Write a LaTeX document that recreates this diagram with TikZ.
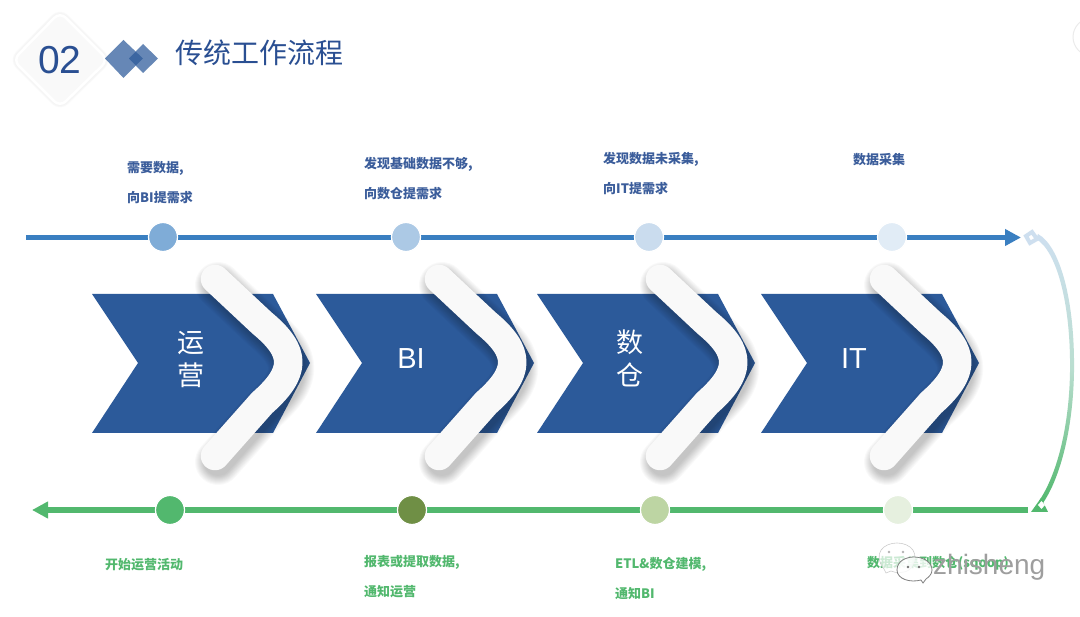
\documentclass[tikz,border=0pt]{standalone}
\usepackage{fontspec}
\setmainfont{Noto Sans CJK SC}
\newfontfamily\latinf{Liberation Sans}
\usetikzlibrary{arrows.meta,calc}
\definecolor{navy}{HTML}{2C5A9A}
\definecolor{titleblue}{HTML}{2A4F92}
\definecolor{linegreen}{HTML}{52B86E}
\definecolor{lineblue}{HTML}{3A7FC1}
\colorlet{bandc}{white!97.5!black}
\tikzset{
 x=1pt,y=-1pt,
 chev/.style={fill=navy,draw=none},
 dot/.style={circle,minimum size=29pt,inner sep=0pt,draw=white,line width=1.2pt},
 toplabel/.style={text=titleblue!92!white,font=\fontsize{13}{30}\selectfont\bfseries,align=left,anchor=north west,inner sep=0pt},
 botlabel/.style={text=linegreen,font=\fontsize{13}{30}\selectfont\bfseries,align=left,anchor=north west,inner sep=0pt},
 chevtext/.style={text=white,font=\fontsize{27}{33}\selectfont,align=center,inner sep=0pt},
}
\newcommand{\chevron}[1]{%
 \begin{scope}[xshift=#1 pt]
 \fill[chev] (0,294)--(181,294)--(218,363)--(181,433)--(0,433)--(46,363)--cycle;
 \foreach \s in {20,18,16,14,12,10,8,6,4,2}{
   \draw[black,opacity=.024,line width=26pt+\s pt,line cap=round,line join=round]
     ($(123,279)+(3,6)$)--($(170,323)+(3,6)$) .. controls ($(205,352)+(3,6)$) and ($(205,372)+(3,6)$) .. ($(170,403)+(3,6)$)--($(123,456)+(3,6)$);
 }
 \draw[bandc,line width=28.5pt,line cap=round,line join=round]
   (123,279)--(170,323) .. controls (205,352) and (205,372) .. (170,403)--(123,456);
 \end{scope}}
\begin{document}
\begin{tikzpicture}
\useasboundingbox (0,0) rectangle (1080,617);
\fill[white] (0,0) rectangle (1080,617);
% header
\foreach \s in {7,5,3}{\draw[black!5,opacity=.4,line width=\s pt,rounded corners=8pt] (60,12)--(108,60)--(60,107)--(13,60)--cycle;}
\fill[white!97.5!black,draw=white,line width=2.5pt,rounded corners=8pt] (60,12)--(108,60)--(60,107)--(13,60)--cycle;
\node[text=titleblue,inner sep=0pt,font=\latinf\fontsize{39}{39}\selectfont] (num) at (60,60) {02};
\fill[navy,opacity=.72] (123.5,40)--(143,58.5)--(123.5,78)--(105,58.5)--cycle;
\fill[navy,opacity=.72] (143,44)--(158,58.5)--(143,73)--(129,58.5)--cycle;
\node[text=titleblue,anchor=west,inner sep=0pt,font=\fontsize{28}{28}\selectfont] (title) at (175,53) {传统工作流程};
% top line
\coordinate (ts) at (26,237.5); \coordinate (te) at (1021,237.5);
\draw[lineblue,line width=5.5pt,-{Triangle[length=16pt,width=16pt]}] (ts)--(te);
\node[dot,fill=lineblue!65!white] (t1) at (163,237) {};
\node[dot,fill=lineblue!42!white] (t2) at (406,237) {};
\node[dot,fill=lineblue!27!white] (t3) at (649,237) {};
\node[dot,fill=lineblue!15!white] (t4) at (892,237) {};
\node[toplabel] (l1) at (127,161) {需要数据,\\向BI提需求};
\node[toplabel] (l2) at (364,157) {发现基础数据不够,\\向数仓提需求};
\node[toplabel] (l3) at (603,152) {发现数据未采集,\\向IT提需求};
\node[toplabel] (l4) at (853,153) {数据采集};
% bottom line
\coordinate (bs) at (1028,510); \coordinate (be) at (32,510);
\draw[linegreen,line width=5.5pt,-{Triangle[length=16pt,width=16pt]}] (bs)--(be);
\definecolor{bc2}{HTML}{6F8F45}\definecolor{bc3}{HTML}{BDD5A3}\definecolor{bc4}{HTML}{E6F0DF}
\node[dot,fill=linegreen] (b1) at (170,510) {};
\node[dot,fill=bc2] (b2) at (412,510) {};
\node[dot,fill=bc3] (b3) at (655,510) {};
\node[dot,fill=bc4] (b4) at (898,510) {};
\node[botlabel] (m1) at (105,558) {开始运营活动};
\node[botlabel] (m2) at (364,555) {报表或提取数据,\\通知运营};
\node[botlabel] (m3) at (615,557) {ETL\&数仓建模,\\通知BI};
\node[botlabel] (m4) at (867,556) {数据采集到数仓(sqoop)};
% chevrons
\chevron{92}
\chevron{316}
\chevron{537}
\chevron{761}
\node[chevtext] (c1) at (191,360) {运\\营};
\node[chevtext,font=\latinf\fontsize{29}{33}\selectfont] (c2) at (411,359) {BI};
\node[chevtext] (c3) at (630,358) {数\\仓};
\node[chevtext,font=\latinf\fontsize{29}{33}\selectfont] (c4) at (854,359) {IT};
% return curve
\shade[top color=lineblue!25!white,bottom color=linegreen,middle color=lineblue!25!white!60!linegreen!70!white]
  (1038,234) .. controls (1060,246) and (1075,300) .. (1074,372)
  .. controls (1073,430) and (1060,478) .. (1043,503)
  -- (1039,501) .. controls (1056,476) and (1069,430) .. (1070,372)
  .. controls (1071,302) and (1056,250) .. (1036,239) -- cycle;
\draw[lineblue!25!white,line width=4pt] (1032,232)--(1037,239)--(1030,243)--(1026,236)--cycle;
\fill[linegreen] (1031,512)--(1048,512)--(1041,498)--cycle;
\fill[white] (1041.5,501)--(1045,505)--(1041.5,509)--(1038,505)--cycle;
% corner mark
\draw[black!8,line width=1pt] (1092,37) circle (19);
% watermark
\draw[black!20,line width=.6pt,fill=white,fill opacity=.7] (886,573) -- (884,569) .. controls (872,553) and (884,543) .. (897,543) .. controls (910,543) and (922,553) .. (910,569) .. controls (905,574) and (895,573) .. (891,571) -- cycle;
\fill[black!30] (889,552) circle (1.3) (903,552) circle (1.3);
\draw[black!50,line width=.8pt,fill=white,fill opacity=.8] (923,583) -- (921,580) .. controls (910,583) and (897,579) .. (897,570) .. controls (897,561) and (906,557) .. (914,557) .. controls (923,557) and (932,562) .. (932,570) .. controls (932,574) and (929,577) .. (926,579) -- cycle;
\fill[black!55] (908,567) circle (1.3) (919,567) circle (1.3);
\node[text=black!38,anchor=west,inner sep=0pt,font=\latinf\fontsize{28}{28}\selectfont] (wm) at (933,567) {zhisheng};
\end{tikzpicture}
\end{document}
